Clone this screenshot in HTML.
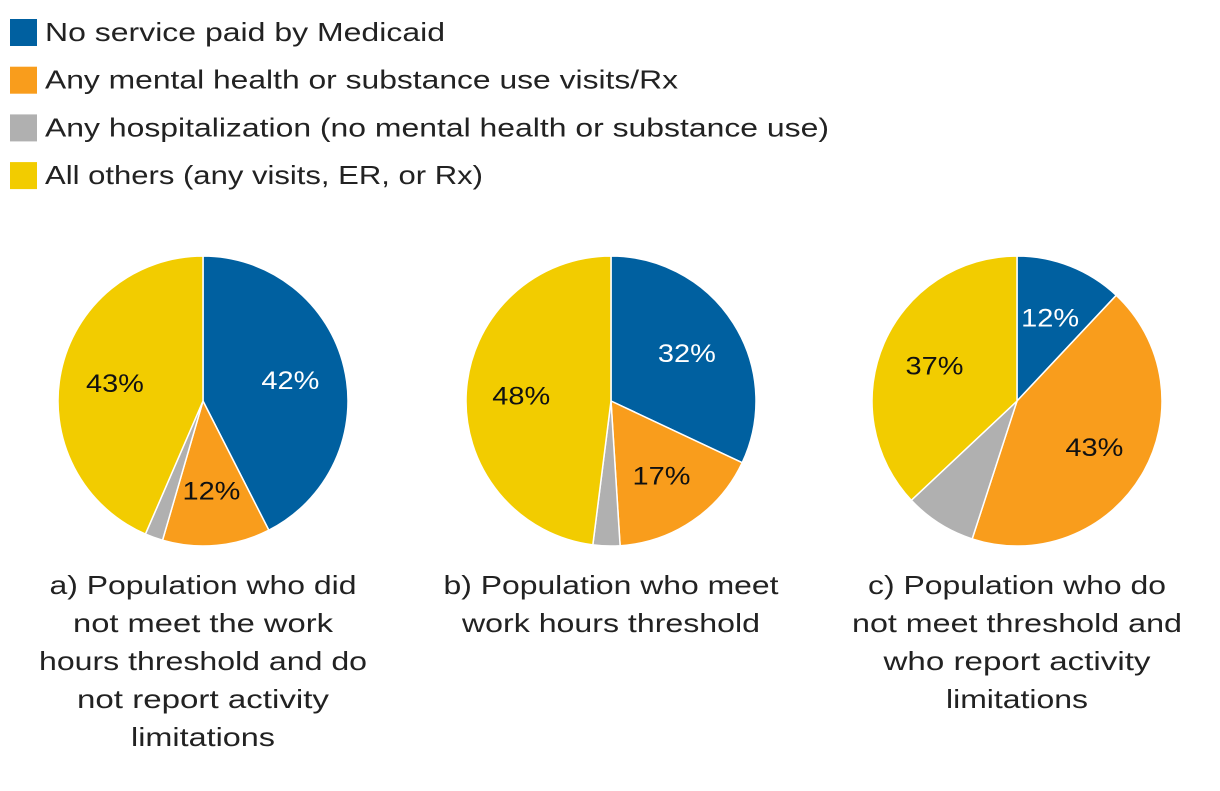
<!DOCTYPE html>
<html><head><meta charset="utf-8"><style>
body{margin:0;background:#fff;width:1220px;height:786px;overflow:hidden;font-family:"Liberation Sans",sans-serif;}
</style></head><body>
<svg id="chart" width="1220" height="786" xmlns="http://www.w3.org/2000/svg" font-family="Liberation Sans, sans-serif"></svg>
<script>
const categories=["No service paid by Medicaid","Any mental health or substance use visits/Rx","Any hospitalization (no mental health or substance use)","All others (any visits, ER, or Rx)"];
const colors=["#0060a0","#f99d1c","#b0b0b0","#f2cc00"];
const seriesA=[42.5,12,2,43.5];
const seriesB=[32,17,3,48];
const seriesC=[12,43,8,37];
const labelsA=["42%","12%","","43%"];
const labelsB=["32%","17%","","48%"];
const labelsC=["12%","43%","","37%"];
const captions=[["a) Population who did","not meet the work","hours threshold and do","not report activity","limitations"],["b) Population who meet","work hours threshold"],["c) Population who do","not meet threshold and","who report activity","limitations"]];
const legendW=[400,633,784,438];
const capW=[[307,260,328,252,144],[335,298],[298,330,267,142]];
const svg=document.getElementById('chart');
const NS="http://www.w3.org/2000/svg";
function mk(t,a,p){const e=document.createElementNS(NS,t);for(const k in a)e.setAttribute(k,a[k]);(p||svg).appendChild(e);return e;}
categories.forEach((c,i)=>{
  const y=32+i*47.7;
  const r=mk('rect',{x:10,y:y-13,width:27,height:27,fill:colors[i]});
  
  
  const t=mk('text',{x:45,y:y+9,'font-size':26,fill:'#222',textLength:legendW[i],lengthAdjust:'spacingAndGlyphs'});t.textContent=c;
  
  
});
const pies=[[seriesA,labelsA,203],[seriesB,labelsB,611],[seriesC,labelsC,1017]];
const cy=401,R=145;
function pt(frac,r,cx){const a=frac*2*Math.PI;return [cx+r*Math.sin(a),cy-r*Math.cos(a)];}
pies.forEach(([vals,labs,cx],pi)=>{
  const tot=vals.reduce((a,b)=>a+b,0);let acc=0;
  vals.forEach((v,i)=>{
    const f0=acc/tot,f1=(acc+v)/tot;acc+=v;
    const [x0,y0]=pt(f0,R,cx),[x1,y1]=pt(f1,R,cx);
    const large=(f1-f0)>0.5?1:0;
    const p=mk('path',{d:`M${cx},${cy}L${x0},${y0}A${R},${R} 0 ${large} 1 ${x1},${y1}Z`,fill:colors[i],stroke:'#fff','stroke-width':1.5});
    
    
    if(labs[i]){
      const [lx,ly]=pt((f0+f1)/2,R*0.62,cx);
      const t=mk('text',{x:lx,y:ly+9,'text-anchor':'middle','font-size':25,fill:i===0?'#fff':'#111',textLength:58,lengthAdjust:'spacingAndGlyphs'});
      t.textContent=labs[i];
      
      
    }
  });
  captions[pi].forEach((line,j)=>{
    const t=mk('text',{x:cx,y:594+j*38,'text-anchor':'middle','font-size':26,fill:'#222',textLength:capW[pi][j],lengthAdjust:'spacingAndGlyphs'});
    t.textContent=line;
    
    
  });
});
</script>
</body></html>
